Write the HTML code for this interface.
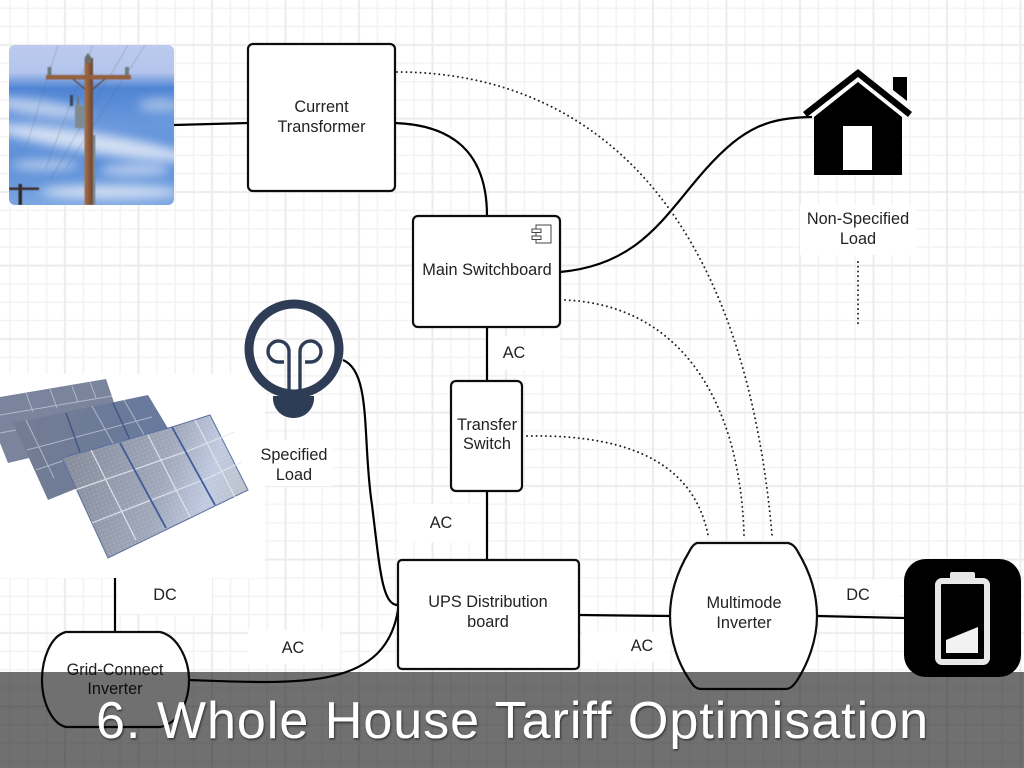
<!DOCTYPE html>
<html lang="en">
<head>
<meta charset="utf-8">
<title>6. Whole House Tariff Optimisation</title>
<style>
html,body{margin:0;padding:0;background:#fff;width:1024px;height:768px;overflow:hidden}
svg{display:block}
.l{font-family:"Liberation Sans",sans-serif;font-size:16.3px;fill:#222;text-anchor:middle}
.b{fill:#fff;stroke:#0c0c0c;stroke-width:2.2}
.c{fill:none;stroke:#000;stroke-width:2.2}
.d{fill:none;stroke:#222;stroke-width:1.9;stroke-dasharray:0.1 4.6;stroke-linecap:round}
</style>
</head>
<body>
<svg width="1024" height="768" viewBox="0 0 1024 768" xmlns="http://www.w3.org/2000/svg">
<defs>
<pattern id="grid" x="55.81" y="35.81" width="73.5" height="73.5" patternUnits="userSpaceOnUse">
<path d="M27.56 0V73.5M45.94 0V73.5M64.31 0V73.5M0 27.56H73.5M0 45.94H73.5M0 64.31H73.5" stroke="#f3f3f3" stroke-width="1.5" fill="none"/>
<path d="M9.19 0V73.5M0 9.19H73.5" stroke="#ececec" stroke-width="2" fill="none"/>
</pattern>
<pattern id="cells" width="4" height="4" patternUnits="userSpaceOnUse" patternTransform="rotate(-22)">
<circle cx="2" cy="2" r="0.9" fill="#fff" opacity=".16"/>
</pattern>
<linearGradient id="sky" x1="0" y1="0" x2="0" y2="1">
<stop offset="0" stop-color="#bccaee"/><stop offset=".17" stop-color="#b4c5ec"/>
<stop offset=".27" stop-color="#4f84d4"/><stop offset=".5" stop-color="#6a98dc"/>
<stop offset=".75" stop-color="#5a8ed8"/><stop offset="1" stop-color="#7ba6e2"/>
</linearGradient>
<linearGradient id="front" x1="0" y1="0.3" x2="1" y2="0.5">
<stop offset="0" stop-color="#858b9a"/><stop offset=".55" stop-color="#a0a8bb"/><stop offset=".8" stop-color="#c0cae0"/><stop offset="1" stop-color="#bcc2cc"/>
</linearGradient>
<linearGradient id="mid" x1="0" y1="0" x2="1" y2="0">
<stop offset="0" stop-color="#737c92"/><stop offset="1" stop-color="#68799e"/>
</linearGradient>
<linearGradient id="pole" x1="0" y1="0" x2="1" y2="0">
<stop offset="0" stop-color="#a5734f"/><stop offset=".5" stop-color="#8a5a3a"/><stop offset="1" stop-color="#6e452c"/>
</linearGradient>
<filter id="blur6"><feGaussianBlur stdDeviation="5"/></filter>
<filter id="blur1"><feGaussianBlur stdDeviation=".5"/></filter>
<filter id="soft"><feGaussianBlur stdDeviation=".35"/></filter>
<filter id="tshadow" x="-5%" y="-20%" width="110%" height="140%"><feDropShadow dx="1" dy="1.5" stdDeviation="1" flood-color="#000" flood-opacity=".55"/></filter>
<clipPath id="poleclip"><rect x="9" y="45" width="165" height="160" rx="6"/></clipPath>
</defs>

<rect width="1024" height="768" fill="#fff"/>
<rect width="1024" height="768" fill="url(#grid)"/>

<g filter="url(#soft)">
<!-- white patches behind labels and images -->
<g fill="#fff">
<rect x="0" y="374" width="265" height="204"/>
<rect x="488" y="336" width="72" height="34"/>
<rect x="398" y="504" width="86" height="38"/>
<rect x="118" y="578" width="94" height="36"/>
<rect x="248" y="630" width="92" height="34"/>
<rect x="582" y="632" width="86" height="30"/>
<rect x="820" y="580" width="80" height="30"/>
<rect x="800" y="205" width="116" height="50"/>
<rect x="255" y="440" width="78" height="46"/>
</g>

<!-- utility pole photo -->
<g clip-path="url(#poleclip)">
<rect x="9" y="45" width="165" height="160" fill="url(#sky)"/>
<g filter="url(#blur6)" fill="#dfe7f6">
<ellipse cx="40" cy="108" rx="50" ry="8" opacity=".7" transform="rotate(8 40 108)"/>
<ellipse cx="160" cy="105" rx="22" ry="7" opacity=".5"/>
<ellipse cx="95" cy="143" rx="100" ry="10" opacity=".9" transform="rotate(9 95 143)"/>
<ellipse cx="45" cy="165" rx="35" ry="5" opacity=".7"/>
<ellipse cx="135" cy="170" rx="35" ry="6" opacity=".7"/>
<ellipse cx="110" cy="192" rx="70" ry="7" opacity=".85"/>
</g>
<g filter="url(#blur1)">
<g stroke="#5a6880" stroke-width=".6" opacity=".45" fill="none">
<path d="M58 45 25 150M93 45 45 170M128 45 50 180M145 45 65 170"/>
</g>
<rect x="84.5" y="58" width="8.5" height="147" fill="url(#pole)"/>
<path d="M88 53l3 4v6h-6v-6z" fill="#6b6f72"/>
<rect x="46" y="75" width="85" height="4.5" fill="#94603f"/>
<rect x="47.5" y="67" width="4" height="8" fill="#6f7a80"/>
<rect x="125" y="67" width="4" height="8" fill="#6f7a80"/>
<path d="M73 79l12 10M105 79l-12 10" stroke="#5a4b42" stroke-width="1.2" fill="none"/>
<rect x="75" y="105" width="10" height="23" fill="#7f8a8e"/>
<rect x="70" y="95" width="3" height="11" fill="#35475c"/>
<rect x="77" y="96" width="2" height="9" fill="#6a7885"/>
<rect x="93" y="135" width="2.4" height="70" fill="#7c8a93"/>
<rect x="18.5" y="184" width="3.5" height="21" fill="#2e2a2c"/>
<rect x="9" y="187.5" width="30" height="2.5" fill="#3b2f2e"/>
</g>
</g>

<!-- solar panels -->
<polygon points="0,397 106,379 120,420 29,458 8,463 0,443" fill="#7a849c"/>
<g stroke="#c3cbd9" stroke-width="1" fill="none" opacity=".75">
<path d="M26,393 33,412M50,389 57,408M72,386 78,402M90,382 96,398M0,415 112,396M0,433 16,430"/>
</g>
<polygon points="13,423 148,395 175,440 80,487 48,500" fill="url(#mid)"/>
<g stroke="#c3cbd9" stroke-width="1" fill="none" opacity=".75">
<path d="M26,420 54,478M92,406 114,445M124,400 146,438M27,450 152,417M36,470 80,455"/>
</g>
<path d="M66,413 80,452M113,403 130,440" stroke="#3f5586" stroke-width="1.4"/>
<polygon points="62,458 172,427 210,415 248,490 108,558" fill="url(#front)" stroke="#5a6e9f" stroke-width="1"/>
<polygon points="62,458 172,427 210,415 248,490 108,558" fill="url(#cells)"/>
<g stroke="#e4e8ef" stroke-width="1.2" fill="none" opacity=".9">
<path d="M91,450 136,540M148,435 190,517M195,420 235,497"/>
<path d="M75,490 185,452 235,432M92,523 208,478 242,462"/>
</g>
<path d="M120,443 166,528M172,427 215,505" stroke="#3f5a96" stroke-width="1.8" fill="none"/>

<!-- solid connectors -->
<path class="c" d="M174 125 L248 123"/>
<path class="c" d="M395 123 C450 125 487 150 487 216"/>
<path class="c" d="M560 272 C640 265 665 215 705 170 C745 125 770 118 812 117"/>
<path class="c" d="M487 327 V381"/>
<path class="c" d="M487 491 V560"/>
<path class="c" d="M343 360 C372 372 362 440 372 505 C380 570 382 605 398 605"/>
<path class="c" d="M189 680 C300 684 385 690 398 610"/>
<path class="c" d="M579 615 L670 616"/>
<path class="c" d="M817 616 L904 618"/>
<path class="c" d="M115 578 V632"/>

<!-- dotted connectors -->
<path class="d" d="M397 72 C560 72 740 170 772 535"/>
<path class="d" d="M565 300 C680 305 740 400 744 535"/>
<path class="d" d="M527 436 C640 434 695 470 708 535"/>
<path class="d" d="M858 262 V325"/>

<!-- boxes -->
<rect class="b" x="248" y="44" width="147" height="147" rx="5"/>
<rect class="b" x="413" y="216" width="147" height="111" rx="5"/>
<rect class="b" x="451" y="381" width="71" height="110" rx="5"/>
<rect class="b" x="398" y="560" width="181" height="109" rx="4"/>
<path class="b" d="M697 543 H788 Q794 544 798 552 C810 572 817 594 817 616 C817 640 808 664 796 682 Q791 689 786 689 H701 Q695 689 691 682 C678 664 670 640 670 616 C670 594 677 572 689 552 Q693 544 697 543 Z"/>
<path class="b" d="M66 632 H160 C178 636 189 660 189 680 C189 702 178 724 160 727 H66 C52 724 42 702 42 680 C42 660 50 636 66 632 Z"/>

<!-- component icon -->
<g fill="#fff" stroke="#444" stroke-width="1">
<rect x="536" y="225" width="15" height="18"/>
<rect x="532" y="229" width="9" height="3.5"/>
<rect x="532" y="236" width="9" height="3.5"/>
</g>

<!-- house -->
<polygon points="803,112 858,69 912,112 908,117 858,77 807,117" fill="#000"/>
<polygon points="893,77 907,77 907,101 893,90" fill="#000"/>
<polygon points="814,117 814,175 902,175 902,117 858,82" fill="#000"/>
<rect x="843" y="126" width="29" height="44" fill="#fff"/>

<!-- bulb -->
<g fill="none" stroke="#2f3e55">
<circle cx="294" cy="349" r="45" stroke-width="9"/>
<path d="M289 394 V352 A10.5 10.5 0 1 0 278 362 H284" stroke-width="3.4"/>
<path d="M300 394 V352 A10.5 10.5 0 1 1 311 362 H305" stroke-width="3.4"/>
</g>
<path d="M273 396 H314 C315 408 306 418 293.5 418 C281 418 272 408 273 396 Z" fill="#2f3e55"/>

<!-- battery -->
<rect x="904" y="559" width="117" height="118" rx="22" fill="#000"/>
<rect x="950" y="572" width="25" height="8" rx="2" fill="#e6e6e6"/>
<rect x="938" y="581" width="49" height="81" rx="4" fill="#000" stroke="#e8e8e8" stroke-width="6"/>
<polygon points="946,640 978,627 978,653 946,653" fill="#f2f2f2"/>

<!-- labels -->
<text class="l" x="321.5" y="112">Current</text>
<text class="l" x="321.5" y="132">Transformer</text>
<text class="l" x="487" y="275">Main Switchboard</text>
<text class="l" x="487" y="430">Transfer</text>
<text class="l" x="487" y="449">Switch</text>
<text class="l" x="488" y="607">UPS Distribution</text>
<text class="l" x="488" y="627">board</text>
<text class="l" x="744" y="608">Multimode</text>
<text class="l" x="744" y="628">Inverter</text>
<text class="l" x="115" y="675">Grid-Connect</text>
<text class="l" x="115" y="694">Inverter</text>
<text class="l" x="858" y="224">Non-Specified</text>
<text class="l" x="858" y="244">Load</text>
<text class="l" x="294" y="460">Specified</text>
<text class="l" x="294" y="480">Load</text>
<text class="l" x="514" y="358">AC</text>
<text class="l" x="441" y="528">AC</text>
<text class="l" x="293" y="653">AC</text>
<text class="l" x="642" y="651">AC</text>
<text class="l" x="165" y="600">DC</text>
<text class="l" x="858" y="600">DC</text>
</g>

<!-- title band -->
<rect x="0" y="672" width="1024" height="96" fill="#000" opacity=".56"/>
<text x="96" y="738" textLength="832" lengthAdjust="spacing" font-family="'Liberation Sans',sans-serif" font-size="52" fill="#fff" filter="url(#tshadow)">6. Whole House Tariff Optimisation</text>
</svg>
</body>
</html>
